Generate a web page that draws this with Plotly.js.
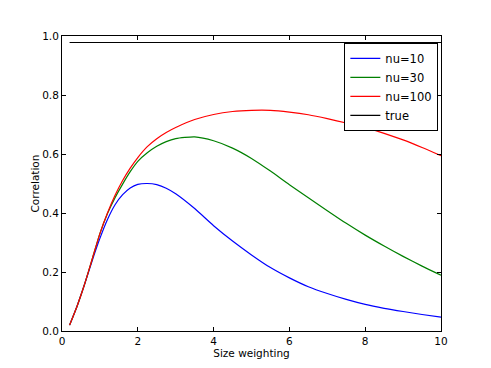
<!DOCTYPE html>
<html>
<head>
<meta charset="utf-8">
<script src="https://cdn.plot.ly/plotly-3.0.1.min.js"></script>
<style>
  html, body { margin: 0; padding: 0; background: #fff; }
  #plot { width: 491px; height: 368px; }
</style>
</head>
<body>
<div id="plot"></div>
<script>
// size weighting values
const xs = [0.2, 0.4, 0.6, 0.8, 1.0, 1.2, 1.4, 1.6, 1.8, 2.0, 2.25, 2.5, 2.75, 3.0,
            3.5, 4.0, 4.5, 5.0, 5.5, 6.0, 6.5, 7.0, 7.5, 8.0, 8.5, 9.0, 9.5, 10.0]

const nu10 = [0.02, 0.085, 0.16, 0.24, 0.314, 0.378, 0.428, 0.462, 0.485, 0.497, 0.50, 0.496, 0.484, 0.465,
              0.415, 0.357, 0.305, 0.258, 0.215, 0.18, 0.15, 0.127, 0.107, 0.09, 0.077, 0.066, 0.056, 0.047]

const nu30 = [0.02, 0.085, 0.16, 0.245, 0.33, 0.398, 0.452, 0.498, 0.54, 0.575, 0.604, 0.626, 0.642, 0.652,
              0.658, 0.645, 0.62, 0.585, 0.542, 0.496, 0.452, 0.408, 0.365, 0.325, 0.288, 0.253, 0.22, 0.189]

const nu100 = [0.02, 0.085, 0.16, 0.245, 0.33, 0.40, 0.46, 0.51, 0.552, 0.588, 0.625, 0.652, 0.673, 0.69,
               0.717, 0.734, 0.744, 0.748, 0.748, 0.742, 0.733, 0.72, 0.705, 0.69, 0.67, 0.648, 0.622, 0.594]

const trueVal = 0.978

const seriesNames = ['nu=10', 'nu=30', 'nu=100', 'true']
const seriesColors = ['#0000ff', '#008000', '#ff0000', '#000000']

const xTicks = [0, 2, 4, 6, 8, 10]
const yTicks = [0.0, 0.2, 0.4, 0.6, 0.8, 1.0]

const ys = [nu10, nu30, nu100, xs.map(function () { return trueVal })]

const data = ys.map(function (y, i) {
  return {
    x: xs,
    y: y,
    name: seriesNames[i],
    mode: 'lines',
    type: 'scatter',
    line: {color: seriesColors[i], width: 1.2, shape: i < 3 ? 'spline' : 'linear', smoothing: 0.6}
  }
})

const axisStyle = {
  showgrid: false,
  zeroline: false,
  showline: true,
  linecolor: '#000',
  linewidth: 1,
  mirror: 'ticks',
  ticks: 'inside',
  ticklen: 4,
  tickcolor: '#000',
  tickfont: {family: 'DejaVu Sans', size: 10.5, color: '#000'}
}

var layout = {
  width: 491,
  height: 368,
  margin: {l: 62, r: 50, t: 36, b: 37},
  paper_bgcolor: '#fff',
  plot_bgcolor: '#fff',
  font: {family: 'DejaVu Sans', color: '#000'},
  showlegend: true,
  legend: {
    x: 0.745, y: 0.977, xanchor: 'left', yanchor: 'top',
    bgcolor: '#fff', bordercolor: '#000', borderwidth: 1,
    font: {family: 'DejaVu Sans', size: 11.5, color: '#000'},
    tracegroupgap: 0
  },
  xaxis: Object.assign({}, axisStyle, {
    range: [0, 10],
    tickvals: xTicks,
    ticktext: xTicks.map(String),
    title: {text: 'Size weighting', font: {family: 'DejaVu Sans', size: 10.5, color: '#000'}, standoff: 2}
  }),
  yaxis: Object.assign({}, axisStyle, {
    range: [0, 1],
    tickvals: yTicks,
    ticktext: yTicks.map(function (v) { return v.toFixed(1) }),
    title: {text: 'Correlation', font: {family: 'DejaVu Sans', size: 10.5, color: '#000'}, standoff: 0}
  })
}

Plotly.newPlot('plot', data, layout, {staticPlot: true})
</script>
</body>
</html>
